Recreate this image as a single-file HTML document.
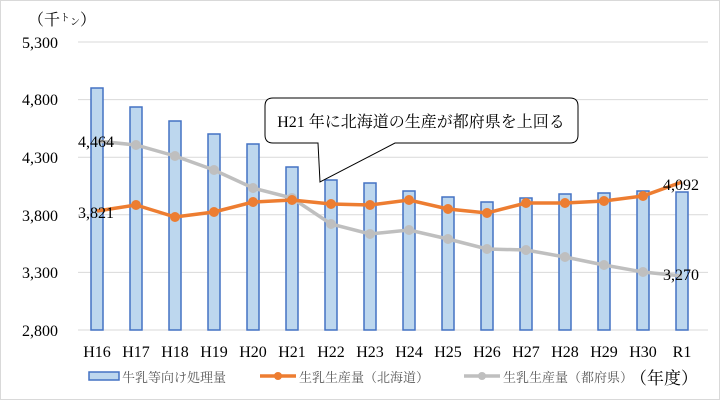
<!DOCTYPE html>
<html><head><meta charset="utf-8"><style>
body{margin:0;background:#fff}
svg{display:block}
text{font-family:"Liberation Serif","Noto Serif CJK SC","Noto Sans CJK JP",serif;fill:#000}
</style></head><body>
<svg width="720" height="400" viewBox="0 0 720 400" xmlns="http://www.w3.org/2000/svg">
<rect x="0.5" y="0.5" width="719" height="399" fill="#fff" stroke="#d9d9d9"/>
<g stroke="#d9d9d9" stroke-width="1">
<line x1="78" y1="42" x2="708" y2="42"/><line x1="78" y1="99.6" x2="708" y2="99.6"/>
<line x1="78" y1="157.2" x2="708" y2="157.2"/><line x1="78" y1="214.8" x2="708" y2="214.8"/>
<line x1="78" y1="272.4" x2="708" y2="272.4"/><line x1="78" y1="330" x2="708" y2="330"/>
</g>
<g font-size="16" text-anchor="end">
<text x="58" y="48">5,300</text><text x="58" y="105">4,800</text><text x="58" y="163">4,300</text>
<text x="58" y="221">3,800</text><text x="58" y="278">3,300</text><text x="58" y="336">2,800</text>
</g>
<text x="28" y="25" font-size="16">（千<tspan font-size="10" dy="-4">ト</tspan><tspan font-size="10" dy="4">ン</tspan>）</text>
<g fill="#bdd7ee" stroke="#4472c4" stroke-width="1.5">
<rect x="91" y="88" width="12" height="242"/><rect x="130" y="107" width="12" height="223"/>
<rect x="169" y="121" width="12" height="209"/><rect x="208" y="134" width="12" height="196"/>
<rect x="247" y="144" width="12" height="186"/><rect x="286" y="167" width="12" height="163"/>
<rect x="325" y="180" width="12" height="150"/><rect x="364" y="183" width="12" height="147"/>
<rect x="403" y="191" width="12" height="139"/><rect x="442" y="197" width="12" height="133"/>
<rect x="481" y="202" width="12" height="128"/><rect x="520" y="198" width="12" height="132"/>
<rect x="559" y="194" width="12" height="136"/><rect x="598" y="193" width="12" height="137"/>
<rect x="637" y="191" width="12" height="139"/><rect x="676" y="192" width="12" height="138"/>
</g>
<g fill="#a5a5a5" fill-opacity="0.7" stroke="none">
</g>
<polyline fill="none" stroke="#bfbfbf" stroke-width="3.5" points="97,141 136,145 175,156 214,170 253,188 292,198 331,224 370,234 409,230 448,239 487,249 526,250 565,257 604,265 643,272 682,276"/>
<g fill="#bfbfbf">
<circle cx="136" cy="145" r="5"/><circle cx="175" cy="156" r="5"/><circle cx="214" cy="170" r="5"/><circle cx="253" cy="188" r="5"/><circle cx="292" cy="198" r="5"/><circle cx="331" cy="224" r="5"/><circle cx="370" cy="234" r="5"/><circle cx="409" cy="230" r="5"/><circle cx="448" cy="239" r="5"/><circle cx="487" cy="249" r="5"/><circle cx="526" cy="250" r="5"/><circle cx="565" cy="257" r="5"/><circle cx="604" cy="265" r="5"/><circle cx="643" cy="272" r="5"/>
</g>
<polyline fill="none" stroke="#ed7d31" stroke-width="3.5" points="97,211 136,205 175,217 214,212 253,202 292,200 331,204 370,205 409,200 448,209 487,213 526,203 565,203 604,201 643,196 682,182"/>
<g fill="#ed7d31">
<circle cx="136" cy="205" r="5"/><circle cx="175" cy="217" r="5"/><circle cx="214" cy="212" r="5"/><circle cx="253" cy="202" r="5"/><circle cx="292" cy="200" r="5"/><circle cx="331" cy="204" r="5"/><circle cx="370" cy="205" r="5"/><circle cx="409" cy="200" r="5"/><circle cx="448" cy="209" r="5"/><circle cx="487" cy="213" r="5"/><circle cx="526" cy="203" r="5"/><circle cx="565" cy="203" r="5"/><circle cx="604" cy="201" r="5"/><circle cx="643" cy="196" r="5"/>
</g>
<g font-size="16">
<text x="78" y="147">4,464</text><text x="78" y="218">3,821</text>
<text x="663" y="190">4,092</text><text x="663" y="280">3,270</text>
</g>
<path d="M273,98 H570 Q578,98 578,106 V135 Q578,143 570,143 H395 L320,182 L318,143 H273 Q265,143 265,135 V106 Q265,98 273,98 Z" fill="#fff" stroke="#000" stroke-width="1"/>
<text x="421" y="127" font-size="16" text-anchor="middle">H21 年に北海道の生産が都府県を上回る</text>
<g font-size="16" text-anchor="middle">
<text x="97" y="357">H16</text><text x="136" y="357">H17</text><text x="175" y="357">H18</text><text x="214" y="357">H19</text>
<text x="253" y="357">H20</text><text x="292" y="357">H21</text><text x="331" y="357">H22</text><text x="370" y="357">H23</text>
<text x="409" y="357">H24</text><text x="448" y="357">H25</text><text x="487" y="357">H26</text><text x="526" y="357">H27</text>
<text x="565" y="357">H28</text><text x="604" y="357">H29</text><text x="643" y="357">H30</text><text x="682" y="357">R1</text>
</g>
<rect x="89" y="372" width="30" height="8" fill="#bdd7ee" stroke="#4472c4" stroke-width="1.5"/>
<text x="122" y="382" font-size="13" fill="#595959" style="fill:#595959">牛乳等向け処理量</text>
<line x1="260" y1="376" x2="296" y2="376" stroke="#ed7d31" stroke-width="3.5"/><circle cx="278" cy="376" r="4" fill="#ed7d31"/>
<text x="299" y="382" font-size="13" style="fill:#595959">生乳生産量（北海道）</text>
<line x1="464" y1="376" x2="500" y2="376" stroke="#bfbfbf" stroke-width="3.5"/><circle cx="482" cy="376" r="4" fill="#bfbfbf"/>
<text x="503" y="382" font-size="13" style="fill:#595959">生乳生産量（都府県）</text>
<text x="630" y="384" font-size="17">（年度）</text>
</svg>
</body></html>
